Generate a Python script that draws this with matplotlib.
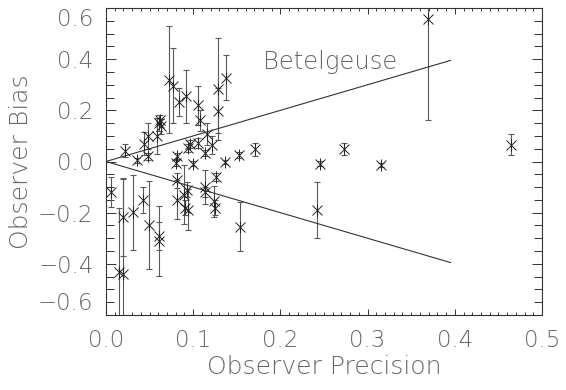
import matplotlib.pyplot as plt
from matplotlib.ticker import MultipleLocator

# observer precision (x), bias (y) and the error on the bias
precision = [0.006, 0.015, 0.019, 0.019, 0.022, 0.031, 0.036, 0.043, 0.044, 0.0485,
             0.0485, 0.049, 0.058, 0.061, 0.063, 0.062, 0.061, 0.061, 0.072, 0.0765,
             0.081, 0.080, 0.081, 0.081, 0.0837, 0.090, 0.0906, 0.0936, 0.0925, 0.0917,
             0.094, 0.096, 0.100, 0.105, 0.106, 0.108, 0.1135, 0.1155, 0.1135, 0.114,
             0.121, 0.126, 0.124, 0.125, 0.129, 0.129, 0.1365, 0.138, 0.152, 0.1537,
             0.171, 0.242, 0.245, 0.273, 0.315, 0.3697, 0.464]
bias = [-0.120, -0.430, -0.440, -0.218, 0.042, -0.198, 0.004, -0.151, 0.070, 0.020,
        0.099, -0.249, 0.100, 0.151, 0.138, 0.162, -0.290, -0.310, 0.320, 0.297,
        0.021, -0.006, -0.073, -0.149, 0.233, -0.129, -0.181, -0.188, -0.110, 0.255,
        0.054, 0.068, -0.008, 0.072, 0.219, 0.161, 0.034, 0.108, -0.100, -0.120,
        0.064, -0.061, -0.155, -0.181, 0.284, 0.199, -0.003, 0.327, 0.025, -0.255,
        0.048, -0.190, -0.008, 0.050, -0.014, 0.558, 0.066]
bias_err = [0.058, 0.250, 0.376, 0.150, 0.025, 0.147, 0.010, 0.052, 0.045, 0.015,
            0.052, 0.172, 0.070, 0.030, 0.030, 0.020, 0.055, 0.137, 0.210, 0.147,
            0.012, 0.010, 0.030, 0.075, 0.055, 0.117, 0.030, 0.080, 0.030, 0.103,
            0.015, 0.015, 0.010, 0.020, 0.075, 0.040, 0.012, 0.042, 0.068, 0.020,
            0.036, 0.015, 0.060, 0.030, 0.200, 0.088, 0.008, 0.088, 0.012, 0.095,
            0.025, 0.110, 0.010, 0.023, 0.008, 0.397, 0.040]

# the two limit lines from the origin
line_x = [0.0, 0.395]
upper_y = [0.0, 0.395]
lower_y = [0.0, -0.395]

x_ticks = [0.0, 0.1, 0.2, 0.3, 0.4, 0.5]
y_ticks = [-0.6, -0.4, -0.2, 0.0, 0.2, 0.4, 0.6]

# thin text like the IDL plot
plt.rcParams['font.family'] = ['DejaVu Sans']
plt.rcParams['font.weight'] = 200

text_col = '#666666'
line_col = '#333333'

fig = plt.figure(figsize=(5.66, 3.9), dpi=100)
ax = fig.add_axes([106 / 566, 1 - 315 / 390, 436 / 566, 307 / 390])

ax.errorbar(precision, bias, yerr=bias_err, fmt='none', ecolor='#5a5a5a',
            elinewidth=0.8, capsize=2.5, capthick=0.8)
ax.plot(precision, bias, 'x', color='#222222', ms=6.5, mew=0.7)
ax.plot(precision, bias, '|', color='#222222', ms=9, mew=0.7)

ax.plot(line_x, upper_y, color=line_col, lw=0.8)
ax.plot(line_x, lower_y, color=line_col, lw=0.8)
ax.text(0.18, 0.387, 'Betelgeuse', fontsize=17.5, color=text_col, va='center')

ax.set_xlim(0, 0.5)
ax.set_ylim(-0.6, 0.6)
ax.set_xticks(x_ticks, [f'{v:.1f}' for v in x_ticks])
ax.set_yticks(y_ticks, [f'{v:.1f}'.replace('-', '\u2212') for v in y_ticks])
ax.xaxis.set_minor_locator(MultipleLocator(0.01))
ax.yaxis.set_minor_locator(MultipleLocator(0.05))

ax.tick_params(axis='both', which='both', direction='in', colors=line_col,
               labelcolor=text_col, labelsize=16.5, width=0.7)
ax.tick_params(axis='x', which='both', top=True, pad=10)
ax.tick_params(axis='x', which='major', length=4.5)
ax.tick_params(axis='x', which='minor', length=2.2)
ax.tick_params(axis='y', which='both', right=True, pad=9)
ax.tick_params(axis='y', which='major', length=7.5)
ax.tick_params(axis='y', which='minor', length=5.5)

ylabs = ax.get_yticklabels()
ylabs[0].set_va('bottom')
ylabs[-1].set_va('top')

for s in ax.spines.values():
    s.set_color(line_col)
    s.set_linewidth(0.8)

ax.set_xlabel('Observer Precision', fontsize=18, color=text_col, fontweight=200)
ax.xaxis.set_label_coords(0.5, -0.17)
ax.xaxis.label.set_va('center')
ax.set_ylabel('Observer Bias', fontsize=18, color=text_col, fontweight=200)
ax.yaxis.set_label_coords(-0.196, 0.5)
ax.yaxis.label.set_va('center')

fig.savefig('out.png', dpi=100)
